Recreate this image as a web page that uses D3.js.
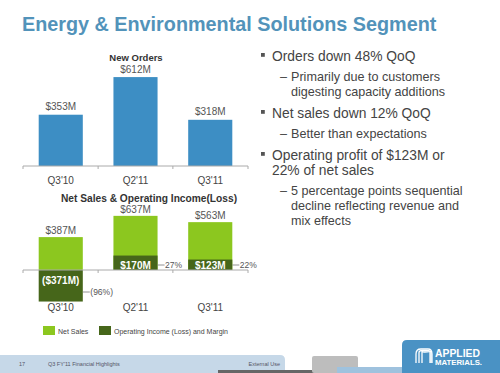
<!DOCTYPE html>
<html>
<head>
<meta charset="utf-8">
<script src="https://cdn.jsdelivr.net/npm/d3@7"></script>
<style>
  body { margin: 0; background: #fff; }
  svg { display: block; font-family: "Liberation Sans", Arial, sans-serif; }
</style>
</head>
<body>
<svg id="chart" width="500" height="373"></svg>
<script>
// data
const quarters = ["Q3'10", "Q2'11", "Q3'11"];
const newOrders = [353, 612, 318];
const netSales = [387, 637, 563];
const opIncome = [-371, 170, 123];
const opMargin = ["(96%)", "27%", "22%"];
const bullets = [
  { lvl: 1, lines: ["Orders down 48% QoQ"] },
  { lvl: 2, lines: ["Primarily due to customers", "digesting capacity additions"] },
  { lvl: 1, lines: ["Net sales down 12% QoQ"] },
  { lvl: 2, lines: ["Better than expectations"] },
  { lvl: 1, lines: ["Operating profit of $123M or", "22% of net sales"] },
  { lvl: 2, lines: ["5 percentage points sequential", "decline reflecting revenue and", "mix effects"] }
];

const money = v => v < 0 ? `($${-v}M)` : `$${v}M`;

const svg = d3.select('#chart');

// title
svg.append('text')
  .attr('x', 22).attr('y', 31)
  .attr('font-size', 19.8).attr('font-weight', 'bold')
  .attr('fill', '#5293ba')
  .text('Energy & Environmental Solutions Segment');

let x = d3.scaleBand()
  .domain(quarters)
  .range([23, 248])
  .paddingInner(0.41)
  .paddingOuter(0.21);

function baseAxis(y0, labelY) {
  const g = svg.append('g');
  g.append('line')
    .attr('x1', 23).attr('x2', 248)
    .attr('y1', y0).attr('y2', y0)
    .attr('stroke', '#aaa').attr('stroke-width', 1);
  const bounds = [23].concat(quarters.map(q => x(q) + x.bandwidth() + x.step() * x.paddingInner() / 2));
  bounds[bounds.length - 1] = 248;
  g.selectAll('.tk').data(bounds).join('line')
    .attr('x1', d => d).attr('x2', d => d)
    .attr('y1', y0).attr('y2', y0 + 3)
    .attr('stroke', '#aaa');
  g.selectAll('.cat').data(quarters).join('text')
    .attr('x', d => x(d) + x.bandwidth() / 2)
    .attr('y', labelY)
    .attr('text-anchor', 'middle')
    .attr('font-size', 10).attr('fill', '#444')
    .text(d => d);
}

// ---- New Orders ----
let yOrd = d3.scaleLinear().domain([0, 700]).range([166, 64.3]);

svg.append('text')
  .attr('x', 136).attr('y', 61)
  .attr('text-anchor', 'middle')
  .attr('font-size', 9.5).attr('font-weight', 'bold').attr('fill', '#333')
  .text('New Orders');

svg.append('g')
  .selectAll('rect')
  .data(newOrders)
  .join('rect')
  .attr('x', (d, i) => x(quarters[i]))
  .attr('y', d => yOrd(d))
  .attr('width', x.bandwidth())
  .attr('height', d => yOrd(0) - yOrd(d))
  .attr('fill', '#3d8ec4');

svg.append('g')
  .selectAll('text')
  .data(newOrders)
  .join('text')
  .attr('x', (d, i) => x(quarters[i]) + x.bandwidth() / 2)
  .attr('y', d => yOrd(d) - 4.5)
  .attr('text-anchor', 'middle')
  .attr('font-size', 10).attr('fill', '#555')
  .text(money);

baseAxis(166, 184);

// ---- Net Sales & Operating Income ----
let ySal = d3.scaleLinear().domain([-400, 700]).range([304, 210.5]);
const lightGreen = '#8cc71f';
const darkGreen = '#46661a';

svg.append('text')
  .attr('x', 149).attr('y', 202)
  .attr('text-anchor', 'middle')
  .attr('font-size', 10.2).attr('font-weight', 'bold').attr('fill', '#333')
  .text('Net Sales & Operating Income(Loss)');

svg.append('g')
  .selectAll('rect')
  .data(netSales)
  .join('rect')
  .attr('x', (d, i) => x(quarters[i]))
  .attr('y', d => ySal(d))
  .attr('width', x.bandwidth())
  .attr('height', d => ySal(0) - ySal(d))
  .attr('fill', lightGreen);

svg.append('g')
  .selectAll('rect')
  .data(opIncome)
  .join('rect')
  .attr('x', (d, i) => x(quarters[i]))
  .attr('y', d => Math.min(ySal(d), ySal(0)))
  .attr('width', x.bandwidth())
  .attr('height', d => Math.abs(ySal(0) - ySal(d)))
  .attr('fill', darkGreen);

svg.append('g')
  .selectAll('text')
  .data(netSales)
  .join('text')
  .attr('x', (d, i) => x(quarters[i]) + x.bandwidth() / 2)
  .attr('y', d => ySal(d) - 3)
  .attr('text-anchor', 'middle')
  .attr('font-size', 10).attr('fill', '#555')
  .text(money);

svg.append('g')
  .selectAll('text')
  .data(opIncome)
  .join('text')
  .attr('x', (d, i) => x(quarters[i]) + x.bandwidth() / 2)
  .attr('y', d => d < 0 ? ySal(0) + 14 : ySal(0) - 1.5)
  .attr('text-anchor', 'middle')
  .attr('font-size', 10).attr('font-weight', 'bold').attr('fill', '#fff')
  .text(money);

// margin call-outs with short leader lines
const marg = svg.append('g');
opIncome.forEach((v, i) => {
  const xr = x(quarters[i]) + x.bandwidth();
  const yy = v < 0 ? ySal(0) + 22 : ySal(0) - 5;
  marg.append('line')
    .attr('x1', xr).attr('x2', xr + 7)
    .attr('y1', yy).attr('y2', yy)
    .attr('stroke', '#777').attr('stroke-width', 0.8);
  marg.append('text')
    .attr('x', xr + 7.5).attr('y', yy + 3)
    .attr('font-size', 8.5).attr('fill', '#555')
    .text(opMargin[i]);
});

baseAxis(ySal(0), 311);

// legend
const leg = svg.append('g').attr('font-size', 7).attr('fill', '#444');
[[43, lightGreen, 'Net Sales'], [99, darkGreen, 'Operating Income (Loss) and Margin']].forEach(([lx, c, t]) => {
  leg.append('rect').attr('x', lx).attr('y', 326).attr('width', 12).attr('height', 9).attr('fill', c);
  leg.append('text').attr('x', lx + 15).attr('y', 333.5).text(t);
});

// ---- bullets on the right ----
const bt = svg.append('g').attr('fill', '#444');
let by = 61;
bullets.forEach((b, bi) => {
  const fs = b.lvl === 1 ? 13.8 : 12.6;
  const lh = 15;
  if (bi > 0) by += b.lvl === 1 ? 22.5 : 19.5;
  if (b.lvl === 1) {
    bt.append('rect').attr('x', 261).attr('y', by - 8).attr('width', 3.8).attr('height', 3.8).attr('fill', '#555');
  } else {
    bt.append('text').attr('x', 280).attr('y', by).attr('font-size', fs).text('–');
  }
  b.lines.forEach((ln, li) => {
    bt.append('text')
      .attr('x', b.lvl === 1 ? 272 : 291)
      .attr('y', by + li * lh)
      .attr('font-size', fs)
      .text(ln);
  });
  by += (b.lines.length - 1) * lh;
});

// ---- footer ----
const ft = svg.append('g');
ft.append('path')
  .attr('d', 'M0,355 H280 Q285,355 285,360 V373 H0 Z')
  .attr('fill', '#c6d8e8');
ft.append('rect').attr('x', 218).attr('y', 370).attr('width', 106).attr('height', 3).attr('fill', '#666');
ft.append('rect').attr('x', 312).attr('y', 356).attr('width', 46).attr('height', 17).attr('rx', 2).attr('fill', '#bdbdbd');
ft.append('rect').attr('x', 337).attr('y', 367).attr('width', 70).attr('height', 6).attr('fill', '#9fc2de');
ft.append('path')
  .attr('d', 'M402,373 V345 Q402,340 407,340 H500 V373 Z')
  .attr('fill', '#4a92c4');
const ftText = ft.append('g').attr('font-size', 5.5).attr('fill', '#556');
ftText.append('text').attr('x', 19).attr('y', 366).text('17');
ftText.append('text').attr('x', 48).attr('y', 366).text("Q3 FY'11 Financial Highlights");
ftText.append('text').attr('x', 280).attr('y', 366).attr('text-anchor', 'end').text('External Use');

// logo
const logo = ft.append('g').attr('fill', 'none').attr('stroke', '#fff').attr('stroke-width', 1.3);
[0, 3, 6].forEach(o => {
  logo.append('path')
    .attr('d', `M${416 + o},363 V${354 - o / 2} Q${416 + o},${349 + o / 2} ${421 + o / 2},${349 + o / 2} H${428 - o / 2} Q${432 - o / 3},${349 + o / 2} ${432 - o / 3},${354 - o / 2} V363`);
});
ft.append('text').attr('x', 435).attr('y', 357).attr('font-size', 10).attr('font-weight', 'bold').attr('fill', '#fff')
  .attr('textLength', 45).attr('lengthAdjust', 'spacingAndGlyphs').text('APPLIED');
ft.append('text').attr('x', 435).attr('y', 364.5).attr('font-size', 7).attr('font-weight', 'bold').attr('fill', '#fff')
  .attr('textLength', 47).attr('lengthAdjust', 'spacingAndGlyphs').text('MATERIALS.');
</script>
</body>
</html>
